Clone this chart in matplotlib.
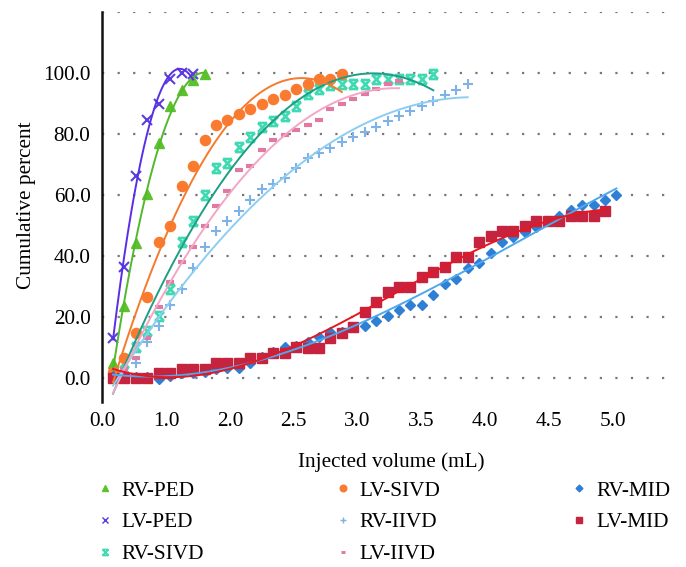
import numpy as np
import matplotlib
matplotlib.use("Agg")
import matplotlib.pyplot as plt
from matplotlib.path import Path
from matplotlib.lines import Line2D

plt.rcParams['font.family'] = ['Liberation Serif', 'DejaVu Serif']

# ---- data (injected volume steps, cumulative percent) ----
volume = [0.1, 0.2, 0.3, 0.4, 0.5, 0.6, 0.7, 0.8, 0.9, 1.0,
          1.1, 1.2, 1.3, 1.4, 1.5, 1.6, 1.7, 1.8, 1.9, 2.0,
          2.1, 2.2, 2.3, 2.4, 2.5, 2.6, 2.7, 2.8, 2.9, 3.0,
          3.1, 3.2, 3.3, 3.4, 3.5, 3.6, 3.7, 3.8, 3.9, 4.0,
          4.1, 4.2, 4.3, 4.4, 4.5]

rv_ped = [5.0, 23.6, 44.4, 60.2, 77.0, 89.2, 94.4, 97.7, 99.7]
lv_ped = [13.2, 36.5, 66.3, 84.6, 89.7, 97.9, 99.9, 99.7]
rv_sivd = [0.5, 5.0, 10.2, 15.3, 20.3, 29.2, 44.5, 51.4, 60.1, 68.8,
           70.4, 75.6, 79.1, 82.4, 84.3, 85.9, 89.3, 93.0, 94.7, 96.1,
           96.3, 96.3, 96.3, 97.9, 97.9, 97.9, 97.9, 98.0, 99.7]
lv_sivd = [2.1, 6.7, 14.9, 26.5, 44.7, 49.8, 63.0, 69.6, 78.0, 83.0,
           84.6, 86.6, 88.1, 89.8, 91.4, 92.9, 94.7, 96.4, 97.9, 98.0, 99.7]
rv_iivd = [0.0, 2.0, 5.0, 11.8, 17.0, 23.9, 29.1, 36.0, 42.9, 48.2,
           51.5, 54.9, 58.4, 61.9, 63.6, 65.5, 68.8, 72.2, 73.9, 75.5,
           77.5, 79.1, 80.8, 82.4, 84.3, 85.9, 87.6, 89.3, 90.9, 92.8,
           94.4, 96.3]
lv_iivd = [0.0, 3.0, 6.6, 13.1, 23.4, 31.6, 38.1, 43.0, 49.8, 56.5,
           61.3, 68.2, 69.6, 74.8, 78.0, 79.7, 81.3, 83.1, 84.7, 88.1,
           89.7, 91.4, 93.0, 94.8, 96.5, 97.5]
rv_mid = [0.5, 0.5, 0.3, 0.3, -0.3, 0.8, 1.7, 1.7, 2.0, 3.0,
          3.2, 3.2, 4.8, 7.0, 8.5, 10.3, 10.5, 11.7, 13.5, 15.2,
          15.2, 16.8, 17.0, 18.8, 20.4, 22.2, 23.8, 23.8, 27.3, 30.7,
          32.6, 36.0, 37.7, 41.1, 44.6, 46.3, 48.0, 49.6, 51.4, 53.2,
          55.0, 56.6, 56.6, 58.4, 60.1]
lv_mid = [0, 0, 0, 0, 1.5, 1.6, 3.1, 3.1, 3.1, 4.8,
          4.8, 4.8, 6.4, 6.4, 8.3, 8.3, 10.2, 9.8, 9.8, 13.2,
          14.9, 16.6, 21.5, 24.8, 28.2, 29.7, 29.7, 33.2, 34.9, 36.5,
          39.8, 39.8, 44.7, 46.6, 48.1, 48.1, 49.8, 51.4, 51.4, 51.4,
          53.2, 53.2, 53.2, 54.8]

x_tick_labels = ["0.0", "1.0", "2.0", "2.5", "3.0", "3.5", "4.0", "4.5", "5.0"]
y_ticks = [0, 20, 40, 60, 80, 100, 120]
y_tick_labels = ["0.0", "20.0", "40.0", "60.0", "80.0", "100.0", ""]

# hourglass-like marker
hourglass = Path([(-1, -1), (1, 1), (-1, 1), (1, -1), (-1, 1), (1, 1), (-1, -1), (1, -1)],
                 [Path.MOVETO, Path.LINETO, Path.MOVETO, Path.LINETO,
                  Path.MOVETO, Path.LINETO, Path.MOVETO, Path.LINETO])

series = [
    # name, values, marker, marker color, line color, msize, mew, degree
    ("RV-PED", rv_ped, '^', '#5cc22c', '#52b82c', 7, 1, 2),
    ("LV-PED", lv_ped, 'x', '#5a3ee0', '#5a2ee6', 6.5, 1.5, 2),
    ("RV-SIVD", rv_sivd, hourglass, '#3fd9b2', '#1e9e84', 6.5, 1.9, 2),
    ("LV-SIVD", lv_sivd, 'o', '#fa7b30', '#f57a2c', 7.3, 1, 2),
    ("RV-IIVD", rv_iivd, '+', '#7fb2e6', '#8dcdf2', 7.5, 1.5, 2),
    ("LV-IIVD", lv_iivd, '_', '#e07aa2', '#f3a6c6', 5.5, 3.0, 2),
    ("RV-MID", rv_mid, 'D', '#2f80d4', '#4ea8ee', 5.3, 1, 3),
    ("LV-MID", lv_mid, 's', '#c6233f', '#e81620', 7, 1, 3),
]

fig = plt.figure(figsize=(6.86, 5.67), dpi=100)
W, H = 686, 567
ax = fig.add_axes([101.6 / W, 1 - 402.4 / H, (676 - 101.6) / W, (402.4 - 12) / H])

for name, vals, mk, mc, lc, ms, mew, deg in series:
    x = np.array(volume[:len(vals)])
    y = np.array(vals, dtype=float)
    filled = mk in ('^', 'o', 'D', 's')
    ax.plot(x, y, linestyle='none', marker=mk, markersize=ms,
            markerfacecolor=mc if filled else 'none', markeredgecolor=mc,
            markeredgewidth=mew, zorder=2, clip_on=True)
    coef = np.polyfit(x, y, deg)
    xs = np.linspace(x[0], x[-1], 300)
    ax.plot(xs, np.polyval(coef, xs), color=lc, lw=1.4, zorder=3)

tick_pos = [0.0044 + 0.5582 * k for k in range(len(x_tick_labels))]
ax.set_xlim(0, (676 - 101.6) / 114.4)
ax.set_ylim(-8, 120)
ax.set_xticks(tick_pos)
ax.set_xticklabels(x_tick_labels, fontsize=15.3)
ax.set_yticks(y_ticks)
ax.set_yticklabels(y_tick_labels, fontsize=15.3)
ax.tick_params(axis='both', length=0)
ax.tick_params(axis='x', pad=7)
ax.tick_params(axis='y', pad=8)
ax.yaxis.grid(True, linestyle=(0, (1, 6)), color='#777777', lw=1.6)
ax.set_axisbelow(True)
for s in ['top', 'right', 'bottom']:
    ax.spines[s].set_visible(False)
ax.spines['left'].set_linewidth(1.8)
ax.spines['left'].set_color('#111111')

fig.text(391 / W, 1 - 462 / H, "Injected volume (mL)", ha='center', va='center', fontsize=15.3)
fig.text(27 / W, 1 - 205 / H, "Cumulative percent", ha='center', va='center',
         rotation=90, fontsize=15.3)

handles = []
for name, vals, mk, mc, lc, ms, mew, deg in series:
    filled = mk in ('^', 'o', 'D', 's')
    handles.append(Line2D([], [], linestyle='none', marker=mk, markersize=ms * 0.65,
                          markerfacecolor=mc if filled else 'none', markeredgecolor=mc,
                          markeredgewidth=max(mew * 0.7, 1), label=name))
fig.legend(handles=handles, ncol=3, loc='upper left',
           bbox_to_anchor=(96 / W, 1 - 481 / H), frameon=False, fontsize=15.3,
           handlelength=0.8, handletextpad=0.4, columnspacing=6.12,
           labelspacing=0.55, borderaxespad=0, borderpad=0)

fig.savefig("out.png", dpi=100)
